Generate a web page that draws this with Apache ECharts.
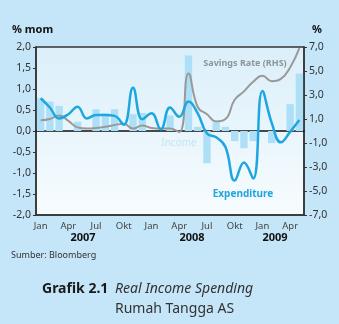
<!DOCTYPE html>
<html lang="id">
<head>
  <meta charset="UTF-8">
  <title>Grafik 2.1</title>
  <style>
    html, body { margin: 0; padding: 0; background: #c4e6f8; }
    #main { width: 339px; height: 324px; }
  </style>
</head>
<body>
  <div id="main"></div>
  <script src="https://cdn.jsdelivr.net/npm/echarts@6/dist/echarts.min.js"></script>
  <script>
    // bulan Jan 2007 - Mei 2009
    const months = [
      'Jan', 'Feb', 'Mar', 'Apr', 'Mei', 'Jun', 'Jul', 'Agu', 'Sep', 'Okt', 'Nov', 'Des',
      'Jan', 'Feb', 'Mar', 'Apr', 'Mei', 'Jun', 'Jul', 'Agu', 'Sep', 'Okt', 'Nov', 'Des',
      'Jan', 'Feb', 'Mar', 'Apr', 'Mei'
    ];
    const years = ['2007', '2008', '2009'];

    // % mom (sumbu kiri)
    const income = [
      0.78, 0.70, 0.60, 0.00, 0.22, 0.00, 0.52, 0.42, 0.52, 0.00, 0.40, 0.43,
      0.00, 0.00, 0.37, 0.00, 1.80, 0.10, -0.77, 0.20, 0.10, -0.24, -0.41, -0.24,
      0.00, -0.29, 0.00, 0.64, 1.37
    ];
    const expenditure = [
      0.78, 0.56, 0.30, 0.40, 0.58, 0.30, 0.38, 0.38, 0.36, 0.15, 1.03, 0.28,
      0.42, 0.04, 0.56, 0.34, 0.70, 0.42, -0.06, -0.15, -0.38, -1.18, -0.75, -1.13,
      0.95, 0.20, -0.27, -0.02, 0.26
    ];
    // % (sumbu kanan)
    const savingsRate = [
      0.9, 1.0, 1.3, 0.85, 0.3, 0.2, 0.25, 0.35, 0.5, 0.6, 0.2, 0.45,
      0.25, 0.2, 0.2, -0.1, 4.8, 2.0, 1.4, 0.8, 1.0, 2.6, 3.3, 4.1,
      4.6, 4.15, 4.35, 5.3, 6.9
    ];

    const leftTicks = { min: -2, max: 2, interval: 0.5 };
    const rightTicks = { min: -7, max: 7, interval: 2 };

    const fmt = v => v.toFixed(1).replace('.', ',');
    const axisFont = '"Noto Sans", sans-serif';
    const dark = '#333';

    const myChart = echarts.init(document.getElementById('main'));

    const option = {
      backgroundColor: '#c4e6f8',
      animation: false,
      grid: {
        left: 36, right: 35, top: 47, bottom: 109,
        show: true,
        borderColor: dark,
        borderWidth: 1.5,
        backgroundColor: {
          type: 'linear', x: 0, y: 0, x2: 0, y2: 1,
          colorStops: [
            { offset: 0, color: '#dbeffa' },
            { offset: 1, color: '#f7fcfe' }
          ]
        }
      },
      xAxis: [
        {
          // garis nol
          type: 'category',
          data: months,
          axisLine: { onZero: true, lineStyle: { color: '#111', width: 1.5 } },
          axisTick: { alignWithLabel: true, interval: 0, length: 3, lineStyle: { color: dark } },
          axisLabel: { show: false },
          splitLine: { show: false }
        },
        {
          type: 'category',
          data: months,
          position: 'bottom',
          axisLine: { onZero: false, lineStyle: { color: dark, width: 1.5 } },
          axisTick: { alignWithLabel: true, interval: 0, length: 3, lineStyle: { color: dark } },
          axisLabel: {
            interval: 2,
            margin: 6,
            fontSize: 9.5,
            color: '#444',
            fontFamily: axisFont
          },
          splitLine: { show: false }
        }
      ],
      yAxis: [
        {
          type: 'value',
          min: leftTicks.min, max: leftTicks.max, interval: leftTicks.interval,
          name: '% mom',
          nameGap: 12,
          nameTextStyle: { fontWeight: 'bold', fontSize: 11, color: '#111', align: 'left', padding: [0, 0, 0, -24], fontFamily: axisFont },
          axisLine: { show: true, lineStyle: { color: dark, width: 1.5 } },
          axisTick: { show: true, length: 3, lineStyle: { color: dark } },
          axisLabel: { fontSize: 10.5, color: dark, margin: 5, fontFamily: axisFont, formatter: fmt },
          splitLine: { show: false }
        },
        {
          type: 'value',
          min: rightTicks.min, max: rightTicks.max, interval: rightTicks.interval,
          name: '%',
          nameGap: 12,
          nameTextStyle: { fontWeight: 'bold', fontSize: 11, color: '#111', align: 'left', padding: [0, 0, 0, 8], fontFamily: axisFont },
          position: 'right',
          axisLine: { show: true, lineStyle: { color: dark, width: 1.5 } },
          axisTick: { show: true, length: 3, lineStyle: { color: dark } },
          axisLabel: { fontSize: 10.5, color: dark, margin: 5, fontFamily: axisFont, formatter: fmt },
          splitLine: { show: false }
        }
      ],
      series: [
        {
          name: 'Income',
          type: 'bar',
          data: income,
          barWidth: '80%',
          itemStyle: { color: '#ade0f7' },
          z: 1
        },
        {
          name: 'Savings Rate (RHS)',
          type: 'line',
          yAxisIndex: 1,
          smooth: 0.5,
          showSymbol: false,
          symbol: 'none',
          lineStyle: { color: '#999', width: 2 },
          data: savingsRate.map((v, i) => i === savingsRate.length - 1
            ? { value: v, label: { show: true, position: 'top', distance: 1, color: '#a8bccb', fontSize: 10, fontFamily: axisFont, formatter: p => fmt(p.value) } }
            : v),
          z: 3
        },
        {
          name: 'Expenditure',
          type: 'line',
          smooth: 0.45,
          showSymbol: false,
          symbol: 'none',
          lineStyle: { color: '#1ea6e0', width: 2.5 },
          data: expenditure,
          z: 4
        }
      ],
      graphic: [
        { type: 'text', x: 83, y: 238, style: { text: years[0], font: 'bold 11px "Noto Sans", sans-serif', fill: '#111', align: 'center', verticalAlign: 'middle' } },
        { type: 'text', x: 192, y: 238, style: { text: years[1], font: 'bold 11px "Noto Sans", sans-serif', fill: '#111', align: 'center', verticalAlign: 'middle' } },
        { type: 'text', x: 275, y: 238, style: { text: years[2], font: 'bold 11px "Noto Sans", sans-serif', fill: '#111', align: 'center', verticalAlign: 'middle' } },
        { type: 'text', x: 179, y: 143, style: { text: 'Income', font: '10px "Noto Sans", sans-serif', fill: '#c3e4f5', align: 'center', verticalAlign: 'middle' } },
        { type: 'text', x: 243, y: 194, style: { text: 'Expenditure', font: 'bold 10px "Noto Sans", sans-serif', fill: '#1fa5de', align: 'center', verticalAlign: 'middle' } },
        { type: 'text', x: 245, y: 63, style: { text: 'Savings Rate (RHS)', font: 'bold 9px "Noto Sans", sans-serif', fill: '#8e9499', align: 'center', verticalAlign: 'middle' } },
        { type: 'text', x: 11, y: 255, style: { text: 'Sumber: Bloomberg', font: '9px "Noto Sans", sans-serif', fill: '#333', verticalAlign: 'middle' } },
        { type: 'text', x: 42, y: 289, style: { text: 'Grafik 2.1', font: 'bold 14px "Noto Sans", sans-serif', fill: '#1a1a1a', verticalAlign: 'middle' } },
        { type: 'text', x: 115, y: 289, style: { text: 'Real Income Spending', font: 'italic 14px "Noto Sans", sans-serif', fill: '#333', verticalAlign: 'middle' } },
        { type: 'text', x: 115, y: 309, style: { text: 'Rumah Tangga AS', font: '14px "Noto Sans", sans-serif', fill: '#333', verticalAlign: 'middle' } }
      ]
    };

    myChart.setOption(option);
  </script>
</body>
</html>
